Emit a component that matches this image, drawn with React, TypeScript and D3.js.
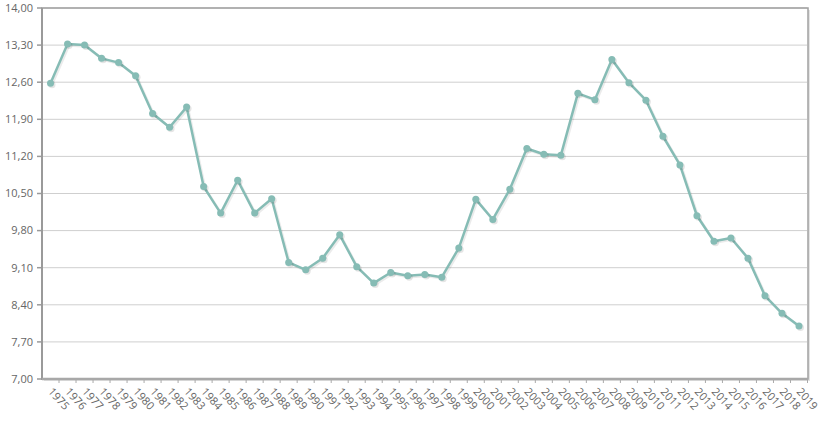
import React from "react";
import * as d3 from "d3";

const years: string[] = [
  "1975","1976","1977","1978","1979","1980","1981","1982","1983","1984",
  "1985","1986","1987","1988","1989","1990","1991","1992","1993","1994",
  "1995","1996","1997","1998","1999","2000","2001","2002","2003","2004",
  "2005","2006","2007","2008","2009","2010","2011","2012","2013","2014",
  "2015","2016","2017","2018","2019",
];

const values: number[] = [
  12.58, 13.32, 13.30, 13.05, 12.97, 12.72, 12.01, 11.75, 12.13, 10.63,
  10.13, 10.75, 10.13, 10.40, 9.20, 9.06, 9.28, 9.72, 9.12, 8.81,
  9.01, 8.95, 8.97, 8.92, 9.47, 10.39, 10.01, 10.58, 11.35, 11.24,
  11.22, 12.39, 12.27, 13.03, 12.59, 12.26, 11.58, 11.04, 10.08, 9.60,
  9.66, 9.28, 8.57, 8.24, 8.00,
];

const yTicks: number[] = [7.0, 7.7, 8.4, 9.1, 9.8, 10.5, 11.2, 11.9, 12.6, 13.3, 14.0];

const W = 828;
const H = 431;
const left = 42;
const right = 807.5;
const top = 8;
const bottom = 379;
const lineColor = "#86bcb5";
const textColor = "#666";
const font = "'Open Sans', sans-serif";

export default function App() {
  const x = d3.scaleBand<string>().domain(years).range([left, right]).padding(0);
  const y = d3.scaleLinear().domain([7, 14]).range([bottom, top]);
  const bw = x.bandwidth();
  const cx = (yr: string) => (x(yr) as number) + bw / 2;
  const fmt = (v: number) => d3.format(".2f")(v).replace(".", ",");
  const data = years.map((yr, i) => ({ yr, v: values[i] }));
  const line = d3
    .line<{ yr: string; v: number }>()
    .x((d) => cx(d.yr))
    .y((d) => y(d.v));
  const pathD = line(data) || "";

  return (
    <svg
      width={W}
      height={H}
      style={{ position: "absolute", left: 0, top: 0, background: "#fff" }}
      fontFamily={font}
    >
      {/* frame shadow */}
      <rect x={left + 2} y={top + 2} width={808 - left} height={bottom - top} fill="#e4e4e4" />
      <rect x={left} y={top} width={808 - left} height={bottom - top} fill="#fff" />
      {/* gridlines */}
      {yTicks.map((t) => (
        <line key={"g" + t} x1={left} x2={807} y1={y(t)} y2={y(t)} stroke="#cfcfcf" strokeWidth={1} />
      ))}
      {/* frame */}
      <rect x={left} y={top} width={808 - left} height={bottom - top} fill="none" stroke="#a0a0a0" strokeWidth={1.5} />
      <line x1={left} x2={left} y1={top} y2={bottom + 1} stroke="#9a9a9a" strokeWidth={2} />
      <line x1={left} x2={808} y1={bottom} y2={bottom} stroke="#a8a8a8" strokeWidth={2.5} />
      {/* y ticks and labels */}
      {yTicks.map((t) => (
        <g key={"y" + t}>
          <line x1={left - 5} x2={left} y1={y(t)} y2={y(t)} stroke="#9a9a9a" strokeWidth={1.5} />
          <text x={33} y={y(t)} dy="0.35em" textAnchor="end" fontSize={11} fill={textColor}>
            {fmt(t)}
          </text>
        </g>
      ))}
      {/* x ticks and labels */}
      {years.map((yr) => (
        <g key={"x" + yr}>
          <line x1={(x(yr) as number) + bw} x2={(x(yr) as number) + bw} y1={bottom} y2={bottom + 4} stroke="#aaa" strokeWidth={1} />
          <text
            transform={`translate(${cx(yr) - 3},${bottom + 13}) rotate(48)`}
            textAnchor="start"
            fontSize={11}
            fill={textColor}
          >
            {yr}
          </text>
        </g>
      ))}
      {/* line shadow */}
      <path d={pathD} transform="translate(1.5,1.5)" fill="none" stroke="#000" strokeOpacity={0.08} strokeWidth={2.5} />
      <path d={pathD} fill="none" stroke={lineColor} strokeWidth={2.5} strokeLinejoin="round" />
      {data.map((d) => (
        <g key={"p" + d.yr}>
          <circle cx={cx(d.yr) + 1.5} cy={y(d.v) + 1.5} r={3.5} fill="#000" fillOpacity={0.1} />
          <circle cx={cx(d.yr)} cy={y(d.v)} r={3.5} fill={lineColor} />
        </g>
      ))}
    </svg>
  );
}
